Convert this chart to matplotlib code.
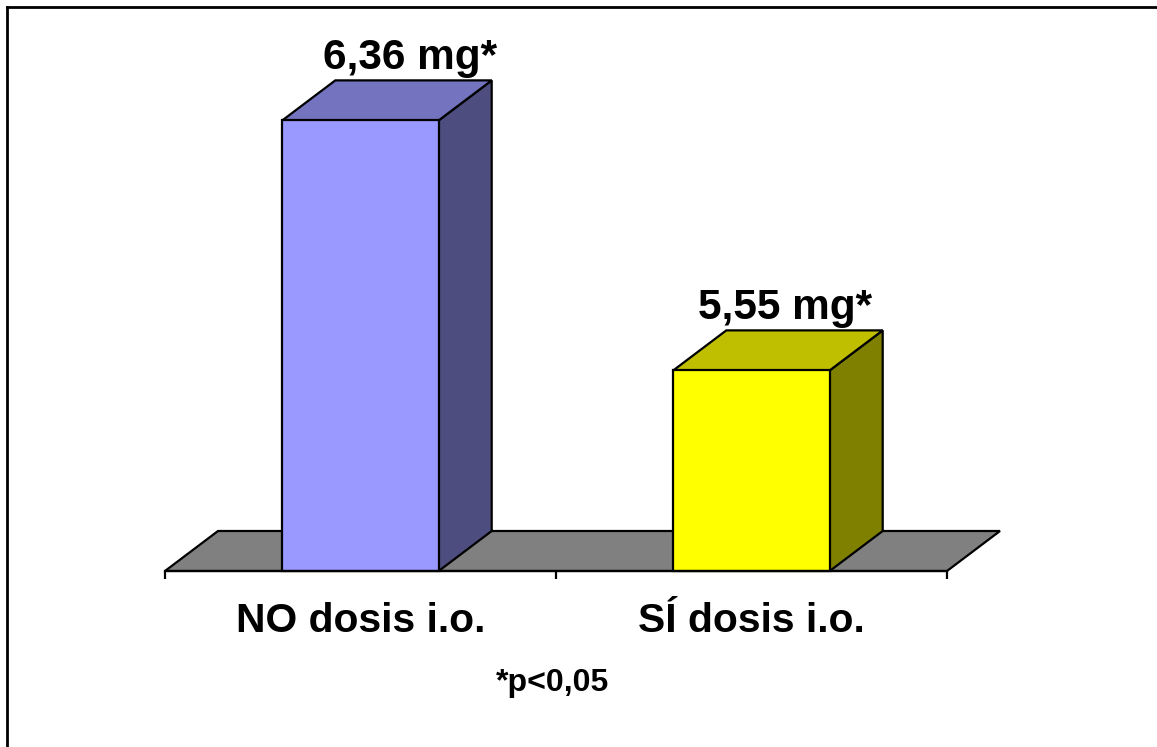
import matplotlib
matplotlib.use("Agg")
import matplotlib.pyplot as plt
from matplotlib.patches import Polygon, Rectangle
from matplotlib.lines import Line2D

plt.rcParams['font.family'] = ['Liberation Sans', 'DejaVu Sans']
plt.rcParams['font.weight'] = 'bold'

# data
categories = ["NO dosis i.o.", "SÍ dosis i.o."]
values = [6.36, 5.55]
unit = "mg*"
footnote = "*p<0,05"

front_colors = ["#9999FF", "#FFFF00"]
top_colors = ["#7373BF", "#BFBF00"]
side_colors = ["#4D4D80", "#808000"]
floor_color = "#808080"
label_shift_px = [50, 34]  # horizontal nudge of the value labels

W, H = 1157, 747
fig = plt.figure(figsize=(W / 100, H / 100), dpi=100)

# plot area in pixels: x 165..947, value base at y=571
base = 4.9
px_per_unit = 308.64
top_px = 20
ax = fig.add_axes([165 / W, (H - 571) / H, 782 / W, (571 - top_px) / H])
ax.set_xlim(0, 2)
ax.set_ylim(base, base + (571 - top_px) / px_per_unit)

dx = 53 / 391          # depth offset, category units
dy = 40 / px_per_unit  # depth offset, value units
bw = 0.4
edge = dict(edgecolor="black", linewidth=1.6, joinstyle="miter")

# floor
ax.add_patch(Polygon([(0, base), (2, base), (2 + dx, base + dy), (dx, base + dy)],
                     closed=True, facecolor=floor_color, clip_on=False, **edge))

for i, (v, fc, tc, sc) in enumerate(zip(values, front_colors, top_colors, side_colors)):
    c = i + 0.5
    x0, x1 = c - bw / 2, c + bw / 2
    ax.add_patch(Polygon([(x1, base), (x1 + dx, base + dy), (x1 + dx, v + dy), (x1, v)],
                         closed=True, facecolor=sc, clip_on=False, **edge))
    ax.add_patch(Polygon([(x0, v), (x1, v), (x1 + dx, v + dy), (x0 + dx, v + dy)],
                         closed=True, facecolor=tc, clip_on=False, **edge))
    ax.add_patch(Rectangle((x0, base), bw, v - base, facecolor=fc, clip_on=False, **edge))
    label = f"{v:.2f}".replace(".", ",") + " " + unit
    ax.annotate(label, (c, v + dy), xytext=(label_shift_px[i] * 0.72, 11 * 0.72),
                textcoords="offset points", ha="center", va="baseline",
                fontsize=30.5, fontweight="bold")
    ax.annotate(categories[i], (c, base), xytext=(0, -61 * 0.72),
                textcoords="offset points", ha="center", va="baseline",
                fontsize=29.3, fontweight="bold")

ax.annotate(footnote, (1, base), xytext=(-3 * 0.72, -120 * 0.72),
            textcoords="offset points", ha="center", va="baseline",
            fontsize=23, fontweight="bold")

for s in ["top", "left", "right"]:
    ax.spines[s].set_visible(False)
ax.spines["bottom"].set_linewidth(1.6)
ax.set_yticks([])
ax.set_xticks([0, 1, 2])
ax.set_xticklabels([])
ax.tick_params(axis="x", length=6, width=1.6, direction="out")
ax.patch.set_visible(False)

# outer border (left and top edges)
fig.add_artist(Line2D([7 / W, 7 / W], [0, 1 - 7 / H], color="black", linewidth=2,
                      transform=fig.transFigure))
fig.add_artist(Line2D([7 / W, 1], [1 - 7 / H, 1 - 7 / H], color="black", linewidth=2,
                      transform=fig.transFigure))

fig.savefig("out.png", dpi=100, facecolor="white")
